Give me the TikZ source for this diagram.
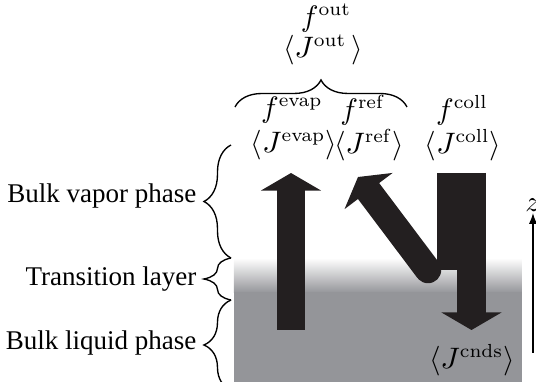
\documentclass[tikz,border=0pt]{standalone}
\usepackage[no-math]{fontspec}
\setmainfont{Liberation Serif}
\usetikzlibrary{arrows.meta,decorations.pathreplacing}

\definecolor{fluxblack}{RGB}{35,31,32}
\definecolor{liquidgray}{RGB}{148,149,153}

\begin{document}
\begin{tikzpicture}[x=0.37pt, y=-0.37pt,
    flux/.style={draw=fluxblack, line width=10.4pt, -{Triangle[width=22pt, length=6.5pt]}},
    fluxbar/.style={draw=fluxblack, line width=#1},
    phase/.style={decorate, decoration={brace, amplitude=10pt}, line width=0.5pt},
    txt/.style={inner sep=0pt},
    sym/.style={inner sep=0pt, font=\fontsize{10.5}{12.5}\selectfont}
  ]
  \useasboundingbox (0,0) rectangle (536,382);

  \shade[top color=white, bottom color=liquidgray] (234,258) rectangle (522,293);
  \fill[liquidgray] (234,292) rectangle (522,382);

  \coordinate (evap-base) at (291,330);
  \coordinate (evap-tip) at (291,173);
  \coordinate (coll-top) at (461.5,173);
  \coordinate (coll-split) at (461.5,270);
  \coordinate (cnds-start) at (471.5,262);
  \coordinate (cnds-tip) at (471.5,330);
  \coordinate (ref-base) at (428,270);
  \coordinate (ref-tip) at (358,177);
  \coordinate (z-base) at (533,353);
  \coordinate (z-tip) at (533,213);

  \draw[flux] (evap-base) -- (evap-tip);
  \draw[fluxbar=18.1pt] (coll-top) -- (coll-split);
  \draw[flux, line width=10.7pt] (cnds-start) -- (cnds-tip);
  \draw[flux, line width=9.8pt] (ref-base) -- (ref-tip);
  \fill[fluxblack] (ref-base) circle[radius=4.9pt];

  \node[sym] (fout) at (326,18) {$f^{\mathrm{out}}$};
  \node[sym] (jout) at (323,50) {$\langle J^{\mathrm{out}}\,\rangle$};
  \draw[phase] (235,107) -- (407,107);

  \node[sym] (fevap) at (292,110) {$f^{\mathrm{evap}}$};
  \node[sym] (jevap) at (294,145) {$\langle J^{\mathrm{evap}}\rangle$};
  \node[sym] (fref) at (363,110) {$f^{\mathrm{ref}}$};
  \node[sym] (jref) at (369,145) {$\langle J^{\mathrm{ref}}\rangle$};
  \node[sym] (fcoll) at (462,110) {$f^{\mathrm{coll}}$};
  \node[sym] (jcoll) at (463,145) {$\langle J^{\mathrm{coll}}\rangle$};
  \node[sym] (jcnds) at (472,360) {$\langle J^{\mathrm{cnds}}\rangle$};

  \node[txt, anchor=east] (vapor) at (197,196) {Bulk vapor phase};
  \node[txt, anchor=east] (transition) at (197,279) {Transition layer};
  \node[txt, anchor=east] (liquid) at (197,343) {Bulk liquid phase};
  \draw[phase] (231,258) -- (231,145);
  \draw[phase] (231,300) -- (231,258);
  \draw[phase] (231,390) -- (231,300);

  \draw[-{Latex[length=4pt, width=3pt]}, line width=0.5pt] (z-base) -- (z-tip);
  \node[sym] (zlabel) at (533,205) {$z$};
\end{tikzpicture}
\end{document}
